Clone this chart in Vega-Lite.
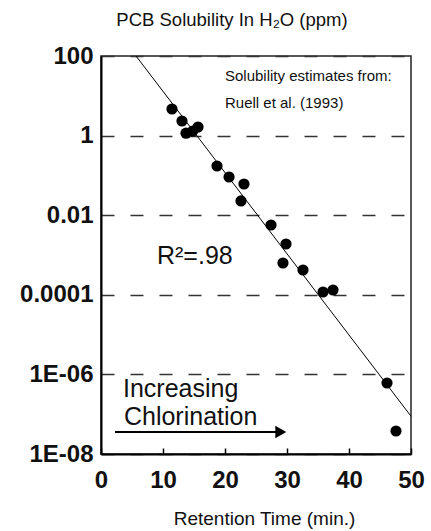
{
  "$schema": "https://vega.github.io/schema/vega-lite/v6.json",
  "width": 310,
  "height": 398,
  "autosize": {"type": "none"},
  "padding": {"left": 101, "top": 56, "right": 20, "bottom": 77},
  "background": "white",
  "title": {
    "text": "PCB Solubility In H₂O (ppm)",
    "font": "Liberation Sans",
    "fontSize": 18.5,
    "fontWeight": "normal",
    "color": "#111",
    "anchor": "middle",
    "dx": -24,
    "offset": 15
  },
  "config": {
    "view": {"stroke": "#222", "strokeWidth": 1.5},
    "axis": {"labelColor": "#111", "titleColor": "#111"}
  },
  "datasets": {
    "pcb": [
      {"t": 11.45, "s": 4.66},
      {"t": 13.06, "s": 2.33},
      {"t": 13.71, "s": 1.15},
      {"t": 14.8, "s": 1.3},
      {"t": 15.65, "s": 1.64},
      {"t": 18.71, "s": 0.172},
      {"t": 20.65, "s": 0.0912},
      {"t": 23.06, "s": 0.0608},
      {"t": 22.58, "s": 0.0228},
      {"t": 27.42, "s": 0.00568},
      {"t": 29.84, "s": 0.00189},
      {"t": 29.35, "s": 0.00063},
      {"t": 32.58, "s": 0.00042},
      {"t": 35.81, "s": 0.0001175},
      {"t": 37.42, "s": 0.000132},
      {"t": 46.13, "s": 6.08e-7},
      {"t": 47.58, "s": 3.78e-8}
    ],
    "fit": [
      {"t": 5.65, "s": 100},
      {"t": 50, "s": 8.9e-8}
    ],
    "arrow": [
      {"t": 2.26, "s": 3.57e-8},
      {"t": 28.5, "s": 3.57e-8}
    ],
    "arrowhead": [
      {"t": 29.0, "s": 3.57e-8}
    ],
    "notes": [
      {"t": 20.0, "s": 23.6, "label": "Solubility estimates from:"},
      {"t": 20.0, "s": 4.93, "label": "Ruell et al. (1993)"}
    ],
    "bignotes": [
      {"t": 9.03, "s": 5.94e-4, "label": "R²=.98"},
      {"t": 3.55, "s": 2.7e-7, "label": "Increasing"},
      {"t": 3.7, "s": 5.36e-8, "label": "Chlorination"}
    ]
  },
  "layer": [
    {
      "data": {"name": "pcb"},
      "mark": {"type": "point", "filled": true, "shape": "circle", "size": 125, "color": "#000", "opacity": 1},
      "encoding": {
        "x": {
          "field": "t", "type": "quantitative",
          "scale": {"domain": [0, 50], "nice": false},
          "axis": {
            "values": [0, 10, 20, 30, 40, 50],
            "title": "Retention Time (min.)",
            "titleFont": "Liberation Sans",
            "titleFontSize": 19,
            "titleFontWeight": "normal",
            "titlePadding": 17,
            "titleX": 163,
            "labelFont": "Liberation Sans",
            "labelFontSize": 24,
            "labelFontWeight": "bold",
            "labelPadding": 20,
            "labelDx": 3,
            "labelFlush": false,
            "grid": false,
            "domainColor": "#000",
            "domainWidth": 2,
            "tickColor": "#000",
            "tickWidth": 1.5,
            "tickSize": -6
          }
        },
        "y": {
          "field": "s", "type": "quantitative",
          "scale": {"type": "log", "domain": [1e-8, 100], "nice": false},
          "axis": {
            "values": [1e-8, 1e-6, 1e-4, 0.01, 1, 100],
            "title": null,
            "labelExpr": "datum.value < 1e-7 ? '1E-08' : datum.value < 1e-5 ? '1E-06' : datum.value < 1e-3 ? '0.0001' : datum.value < 0.1 ? '0.01' : datum.value < 10 ? '1' : '100'",
            "labelFont": "Liberation Sans",
            "labelFontSize": 24,
            "labelFontWeight": "bold",
            "labelPadding": 8,
            "labelFlush": false,
            "ticks": false,
            "domainColor": "#000",
            "domainWidth": 2,
            "grid": true,
            "gridColor": "#333",
            "gridWidth": 1.5,
            "gridDash": [13, 16]
          }
        }
      }
    },
    {
      "data": {"name": "fit"},
      "mark": {"type": "line", "color": "#000", "strokeWidth": 1},
      "encoding": {
        "x": {"field": "t", "type": "quantitative"},
        "y": {"field": "s", "type": "quantitative"}
      }
    },
    {
      "data": {"name": "arrow"},
      "mark": {"type": "line", "color": "#000", "strokeWidth": 1.8},
      "encoding": {
        "x": {"field": "t", "type": "quantitative"},
        "y": {"field": "s", "type": "quantitative"}
      }
    },
    {
      "data": {"name": "arrowhead"},
      "mark": {"type": "point", "shape": "triangle-right", "filled": true, "size": 160, "color": "#000", "opacity": 1},
      "encoding": {
        "x": {"field": "t", "type": "quantitative"},
        "y": {"field": "s", "type": "quantitative"}
      }
    },
    {
      "data": {"name": "notes"},
      "mark": {"type": "text", "align": "left", "baseline": "alphabetic", "font": "Liberation Sans", "fontSize": 15, "color": "#111"},
      "encoding": {
        "x": {"field": "t", "type": "quantitative"},
        "y": {"field": "s", "type": "quantitative"},
        "text": {"field": "label"}
      }
    },
    {
      "data": {"name": "bignotes"},
      "mark": {"type": "text", "align": "left", "baseline": "alphabetic", "font": "Liberation Sans", "fontSize": 25, "color": "#111"},
      "encoding": {
        "x": {"field": "t", "type": "quantitative"},
        "y": {"field": "s", "type": "quantitative"},
        "text": {"field": "label"}
      }
    }
  ]
}
